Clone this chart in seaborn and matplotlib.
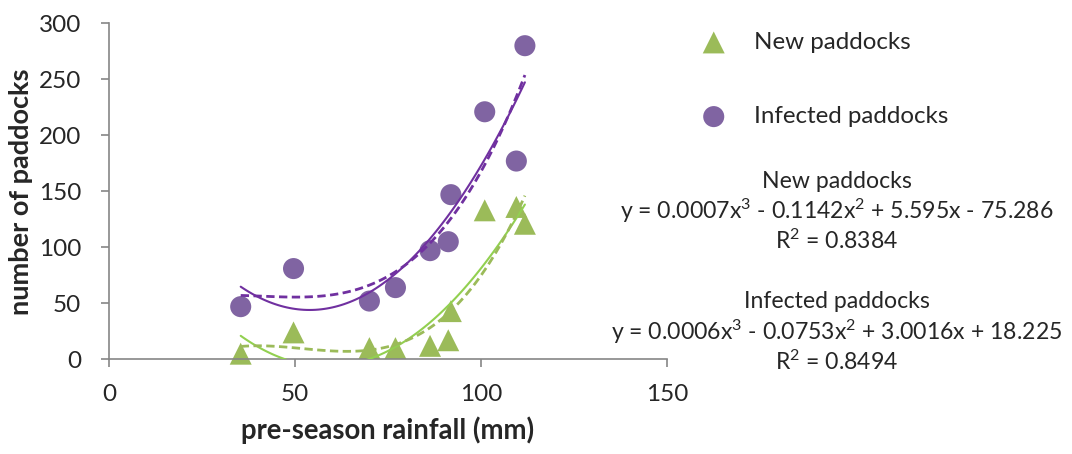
import numpy as np
import pandas as pd
import matplotlib
matplotlib.use("Agg")
import matplotlib.pyplot as plt
import seaborn as sns

# data
rain = [35.4, 49.6, 70.0, 77.0, 86.3, 91.2, 91.9, 101.0, 109.5, 111.8]
new_paddocks = [5, 24, 10, 10, 12, 17, 43, 133, 136, 121]
infected_paddocks = [47, 81, 52, 64, 97, 105, 147, 221, 177, 280]

x_ticks = [0, 50, 100, 150]
y_ticks = [0, 50, 100, 150, 200, 250, 300]

new_label = "New paddocks"
inf_label = "Infected paddocks"
new_eq = ["New paddocks", r"y = 0.0007x$^3$ - 0.1142x$^2$ + 5.595x - 75.286", r"R$^2$ = 0.8384"]
inf_eq = ["Infected paddocks", r"y = 0.0006x$^3$ - 0.0753x$^2$ + 3.0016x + 18.225", r"R$^2$ = 0.8494"]

df = pd.DataFrame({"rain": rain, "new": new_paddocks, "infected": infected_paddocks})

sns.set_style("ticks")
plt.rcParams["font.family"] = ["Lato", "DejaVu Sans"]
plt.rcParams["mathtext.fontset"] = "custom"
plt.rcParams["mathtext.rm"] = "Lato"
plt.rcParams["mathtext.it"] = "Lato"
plt.rcParams["mathtext.default"] = "regular"

green = "#9BBB59"
purple = "#8064A2"
grey = "#868686"

fig = plt.figure(figsize=(10.72, 4.54), dpi=100)
ax = fig.add_axes([0.1017, 0.2086, 0.5205, 0.7401])

# markers
sns.scatterplot(data=df, x="rain", y="new", marker="^", s=250, color=green,
                edgecolor="none", ax=ax, zorder=2, clip_on=False, label=new_label)
sns.scatterplot(data=df, x="rain", y="infected", marker="o", s=230, color=purple,
                edgecolor="none", ax=ax, zorder=2, clip_on=False, label=inf_label)

# trend lines: quadratic (solid) and cubic (dashed)
sns.regplot(data=df, x="rain", y="infected", order=2, ci=None, scatter=False, ax=ax,
            line_kws=dict(color="#7030A0", lw=1.5, zorder=3))
sns.regplot(data=df, x="rain", y="infected", order=3, ci=None, scatter=False, ax=ax,
            line_kws=dict(color="#7030A0", lw=2, ls=(0, (3, 1.6)), zorder=3))
sns.regplot(data=df, x="rain", y="new", order=2, ci=None, scatter=False, ax=ax,
            line_kws=dict(color="#92D050", lw=1.5, zorder=3))
sns.regplot(data=df, x="rain", y="new", order=3, ci=None, scatter=False, ax=ax,
            line_kws=dict(color=green, lw=2, ls=(0, (3, 1.6)), zorder=3))

ax.set_xlim(0, 150)
ax.set_ylim(0, 300)
ax.set_xticks(x_ticks)
ax.set_yticks(y_ticks)
sns.despine(ax=ax)
for s in ["left", "bottom"]:
    ax.spines[s].set_color(grey)
    ax.spines[s].set_linewidth(1.2)
ax.tick_params(direction="out", length=6, width=1.2, color=grey, labelsize=17.5)
ax.tick_params(axis="y", pad=14)
ax.tick_params(axis="x", pad=12)

ax.set_xlabel("pre-season rainfall (mm)", fontsize=19.8, fontweight="bold", labelpad=8)
ax.set_ylabel("number of paddocks", fontsize=19.5, fontweight="bold", labelpad=4)

leg = ax.legend(loc="upper left", bbox_to_anchor=(0.6455, 0.93), bbox_transform=fig.transFigure,
                frameon=False, fontsize=17.4, labelspacing=2.2, handletextpad=0.75,
                handlelength=1.8, borderpad=0, borderaxespad=0)

for block, y0 in [(new_eq, 181), (inf_eq, 302)]:
    for i, line in enumerate(block):
        fig.text(837 / 1072, 1 - (y0 + i * 30) / 454, line, ha="center", va="center", fontsize=16.6)

fig.savefig("out.png", dpi=100)
